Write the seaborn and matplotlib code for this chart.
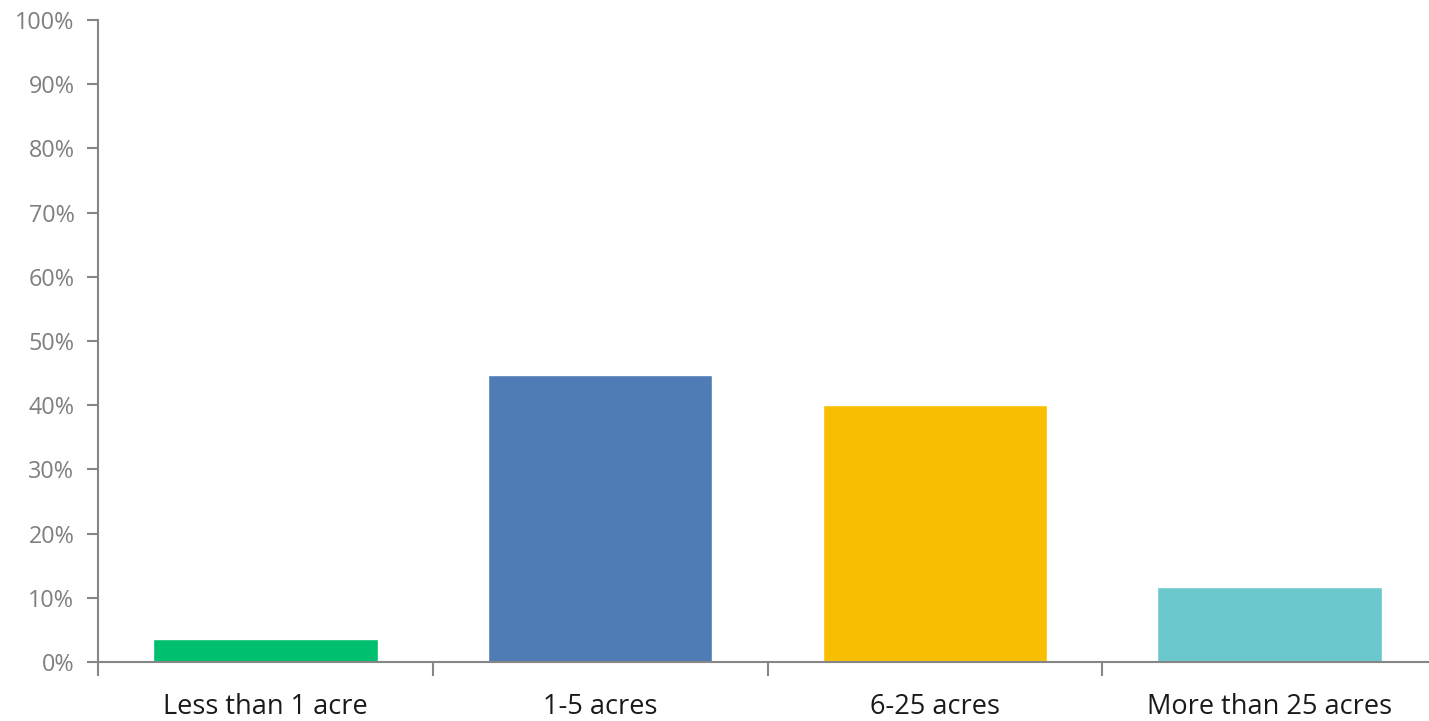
import matplotlib
matplotlib.use("Agg")
import matplotlib.pyplot as plt
import seaborn as sns
import pandas as pd
from matplotlib.ticker import FuncFormatter

categories = ["Less than 1 acre", "1-5 acres", "6-25 acres", "More than 25 acres"]
values = [3.6, 44.7, 40.0, 11.7]
colors = ["#00BF6F", "#4F7CB5", "#F8BF00", "#6BC8CC"]
yticks = [0, 10, 20, 30, 40, 50, 60, 70, 80, 90, 100]

sns.set_theme(style="white")
plt.rcParams['font.family'] = ['Open Sans', 'DejaVu Sans']

df = pd.DataFrame({"cat": categories, "val": values})

W, H = 1429, 721
fig = plt.figure(figsize=(W / 100, H / 100), dpi=100)
ax = fig.add_axes([98 / W, 1 - 662 / H, (1437 - 98) / W, (662 - 20) / H])

sns.barplot(data=df, x="cat", y="val", hue="cat", palette=colors, legend=False,
            width=0.67, saturation=1, ax=ax)

ax.set_xlim(-0.5, 3.5)
ax.set_ylim(0, 100)
ax.set_yticks(yticks)
ax.yaxis.set_major_formatter(FuncFormatter(lambda v, p: f"{int(v)}%"))
ax.set_xlabel("")
ax.set_ylabel("")

ax.set_xticks([-0.5, 0.5, 1.5, 2.5, 3.5], minor=False)
ax.set_xticklabels([])
ax.set_xticks([0, 1, 2, 3], minor=True)
ax.set_xticklabels(categories, minor=True)
ax.tick_params(axis="x", which="major", direction="out", length=10, width=1.5, color="#868686", bottom=True)
ax.tick_params(axis="x", which="minor", length=0, pad=22, labelsize=19.5, labelcolor="#1a1a1a")
ax.tick_params(axis="y", direction="out", length=8, width=1.5, color="#868686", left=True,
               labelsize=16.8, labelcolor="#7f7f7f", pad=9)

for s in ["top", "right"]:
    ax.spines[s].set_visible(False)
for s in ["left", "bottom"]:
    ax.spines[s].set_color("#868686")
    ax.spines[s].set_linewidth(1.5)
ax.grid(False)

fig.savefig("out.png", dpi=100)
